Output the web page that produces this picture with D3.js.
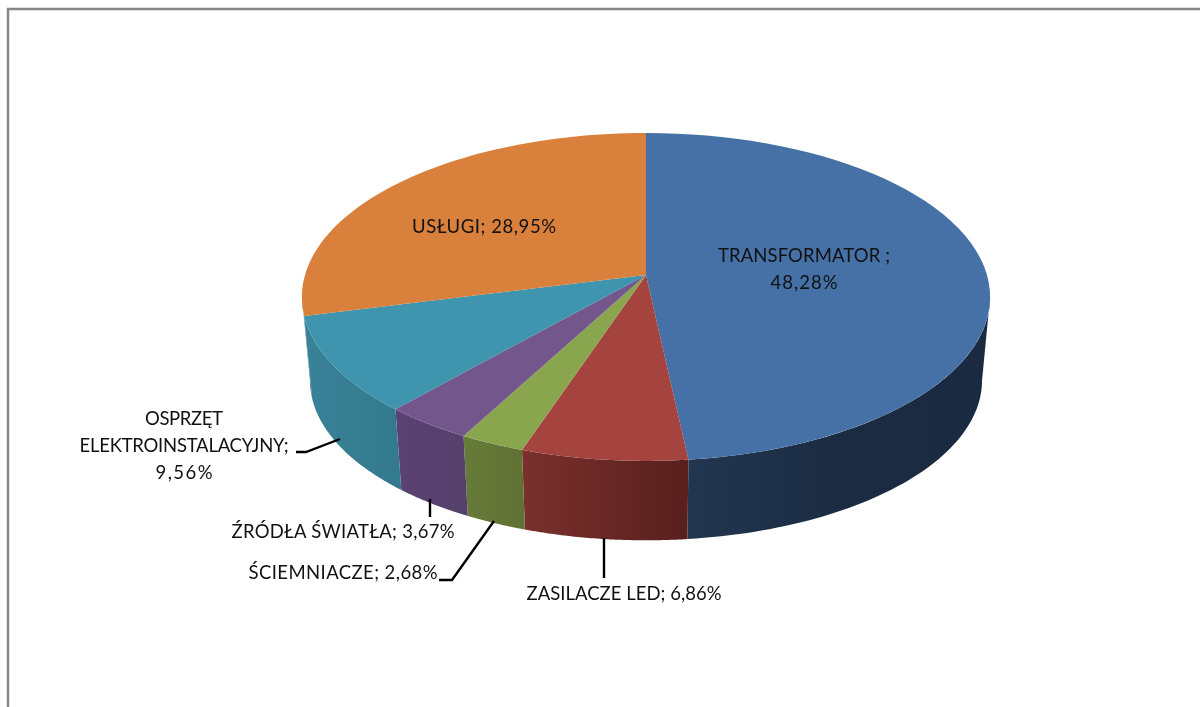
<!DOCTYPE html>
<html><head><meta charset="utf-8">
<script src="https://cdn.jsdelivr.net/npm/d3@7"></script>
<style>html,body{margin:0;padding:0;background:#fff;overflow:hidden}svg{display:block;filter:blur(0.45px)}
text{font-family:Lato,"Open Sans",sans-serif;font-size:18.5px;fill:#111}</style>
</head><body><svg id="c" width="1200" height="707"></svg>
<script>
const categories = ["TRANSFORMATOR ;","ZASILACZE LED;","ŚCIEMNIACZE;","ŹRÓDŁA ŚWIATŁA;","OSPRZĘT ELEKTROINSTALACYJNY;","USŁUGI;"];
const shares = [48.28,6.86,2.68,3.67,9.56,28.95];
const shareLabels = ["48,28%","6,86%","2,68%","3,67%","9,56%","28,95%"];
const topColors = ["#4571a6","#a5433f","#89a54e","#72568c","#3f94ae","#d8803c"];
const sideLeft = ["#22364f","#7a302d","#677b39","#5a4272","#3a8298","#3a8298"];
const sideRight = ["#1b2c42","#581f1d","#5f7234","#56406c","#347a8e","#3a8298"];

const svg = d3.select("#c");
const P = 0.134;
// perspective projection of the unit disc: u right, v towards the viewer
const project = (cx,cy,R,K) => (a,r=1) => {
  const u = r*Math.sin(a), v = -r*Math.cos(a), d = 1-P*v;
  return [cx+R*u/d, cy+K*v/d];
};
const topFace = project(646,275,341,161);
const baseFace = project(646,359,333,157);
const arcs = d3.pie().sort(null).value(d=>d)(shares);
const line = d3.line();
const defs = svg.append("defs");

svg.append("path").attr("d","M8,707V9H1200").attr("fill","none").attr("stroke","#868686").attr("stroke-width",2.5);

const samples = (a,b) => d3.range(0,61).map(i=>a+(b-a)*i/60);
// the rim is visible only between the two silhouette tangents
const tangentA = Math.acos(-P), tangentB = 2*Math.PI-tangentA;

// sides
arcs.forEach((s,i)=>{
  const a0 = Math.max(s.startAngle,tangentA), a1 = Math.min(s.endAngle,tangentB);
  if(a1<=a0) return;
  const as = samples(a0,a1);
  const pts = as.map(a=>topFace(a)).concat(as.slice().reverse().map(a=>baseFace(a)));
  const xs = d3.extent(as.map(a=>topFace(a)[0]));
  const g = defs.append("linearGradient").attr("id","g"+i).attr("gradientUnits","userSpaceOnUse")
    .attr("x1",xs[0]).attr("x2",xs[1]).attr("y1",0).attr("y2",0);
  if(i===0){
    g.append("stop").attr("offset",0).attr("stop-color","#22364f");
    g.append("stop").attr("offset",0.5).attr("stop-color","#1b2c42");
    g.append("stop").attr("offset",1).attr("stop-color","#1a2b41");
  } else {
    g.append("stop").attr("offset",0).attr("stop-color",sideLeft[i]);
    g.append("stop").attr("offset",1).attr("stop-color",sideRight[i]);
  }
  svg.append("path").attr("d",line(pts)+"Z").attr("fill",`url(#g${i})`);
});
// leader lines
const leaders = [[[296,452],[306,452],[340,439]],[[430,499],[430,517]],[[439,580],[452,580],[494,521]],[[604,538],[604,578]]];
leaders.forEach(l=>svg.append("path").attr("d",line(l)).attr("fill","none").attr("stroke","#000").attr("stroke-width",2.4));
// top faces
arcs.forEach((s,i)=>{
  const pts = [topFace(0,0)].concat(samples(s.startAngle,s.endAngle).map(a=>topFace(a)));
  svg.append("path").attr("d",line(pts)+"Z").attr("fill",topColors[i]);
});
// labels
const labelLines = [
  [categories[0],shareLabels[0]],
  [categories[1]+" "+shareLabels[1]],
  [categories[2]+" "+shareLabels[2]],
  [categories[3]+" "+shareLabels[3]],
  ["OSPRZĘT","ELEKTROINSTALACYJNY;",shareLabels[4]],
  [categories[5]+" "+shareLabels[5]]
];
const labelPos = [[804,262],[624,600],[343,579],[343,538],[184,425],[484,233]];
const labelWidths = [[172,67],[195],[189],[223],[78,209,57],[144]];
labelLines.forEach((ls,i)=>{
  const t = svg.append("text").attr("text-anchor","middle");
  ls.forEach((s,j)=>t.append("tspan").attr("x",labelPos[i][0]).attr("y",labelPos[i][1]+j*27)
    .attr("textLength",labelWidths[i][j]).attr("lengthAdjust","spacing").text(s));
});
</script></body></html>
